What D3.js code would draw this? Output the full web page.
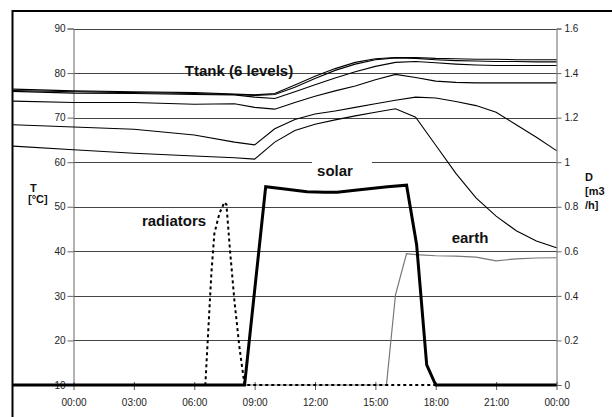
<!DOCTYPE html>
<html><head><meta charset="utf-8">
<script src="https://cdn.jsdelivr.net/npm/d3@7"></script>
<style>body{margin:0;background:#fff}svg{display:block;font-family:"Liberation Sans",Arial,sans-serif}</style>
</head><body><svg id="c" width="612" height="417"></svg>
<script>
// ---- data ----
const hours = [-3,0,3,6,8,9,10,11,12,13,14,15,16,17,18,19,20,21,22,23,24];
const tank1 = [76.4,76.0,75.8,75.6,75.3,75.1,75.4,77.3,79.3,81.0,82.4,83.2,83.5,83.5,83.3,83.2,83.1,83.1,83.0,83.0,83.0];
const tank2 = [76.1,75.8,75.6,75.4,75.2,75.0,75.2,76.8,78.8,80.6,82.0,83.0,83.4,83.3,83.0,82.8,82.7,82.6,82.6,82.5,82.5];
const tank3 = [75.9,75.5,75.4,75.2,75.1,74.6,74.3,75.8,77.4,78.9,80.3,81.5,82.4,82.6,82.3,82.0,81.8,81.7,81.7,81.7,81.7];
const tank4 = [73.7,73.4,73.4,73.0,73.1,72.3,71.9,73.4,74.8,76.0,77.1,78.5,79.7,79.0,78.2,77.9,77.8,77.8,77.8,77.8,77.8];
const tank5 = [68.4,67.9,67.4,66.1,64.5,63.9,67.5,69.6,70.8,71.5,72.3,73.1,73.9,74.6,74.4,73.6,72.7,71.2,68.4,65.6,62.6];
const tank6 = [63.6,62.8,62.0,61.4,61.0,60.7,64.5,67.1,68.5,69.5,70.4,71.2,72.0,70.1,63.8,57.5,52.0,47.9,44.6,42.3,40.8];

const solarHours = [-3,8.5,9.55,10.5,11.6,12.5,13.1,14.1,15.6,16.55,17.05,17.55,18,24];
const solarFlow  = [0,0,0.89,0.88,0.867,0.865,0.865,0.875,0.89,0.897,0.63,0.09,0,0];
const earthHours = [-3,15.55,16.0,16.55,17,18,19,20,21,22,23,24];
const earthFlow  = [0,0,0.405,0.59,0.585,0.58,0.578,0.574,0.557,0.566,0.57,0.571];
const radHours = [-3,6.55,6.85,7.0,7.25,7.5,7.6,7.78,8.0,8.25,8.5,24];
const radFlow  = [0,0,0.5,0.68,0.77,0.82,0.81,0.6,0.375,0.165,0,0];

const xTicks = [0,3,6,9,12,15,18,21,24];
const xTickLabels = ["00:00","03:00","06:00","09:00","12:00","15:00","18:00","21:00","00:00"];
const tTicks = [10,20,30,40,50,60,70,80,90];
const dTicks = [0,0.2,0.4,0.6,0.8,1,1.2,1.4,1.6];

// ---- layout ----
const svg = d3.select("#c");
const X0 = 73.5, X1 = 556.5, Y0 = 385, Y1 = 28.5;
const x = d3.scaleLinear().domain([0,24]).range([X0,X1]);
const yT = d3.scaleLinear().domain([10,90]).range([Y0,Y1]);
const yD = d3.scaleLinear().domain([0,1.6]).range([Y0,Y1]);

// clip to frame interior
svg.append("clipPath").attr("id","cp").append("rect").attr("x",13).attr("y",11).attr("width",600).attr("height",400);

// gridlines
svg.append("g").selectAll("line").data(tTicks.filter(d=>d>10)).join("line")
  .attr("x1",X0).attr("x2",X1).attr("y1",d=>Math.round(yT(d))+0.5).attr("y2",d=>Math.round(yT(d))+0.5)
  .attr("stroke","#444").attr("stroke-width",1);

// left axis
const gl = svg.append("g").attr("transform",`translate(${X0},0)`)
  .call(d3.axisLeft(yT).tickValues(tTicks).tickSize(6).tickPadding(2).tickFormat(d3.format("d")));
gl.select(".domain").attr("stroke","#666");
gl.selectAll(".tick line").attr("stroke","#666");
gl.selectAll("text").attr("font-size",10).attr("font-family","Liberation Sans, Arial").attr("fill","#222");

// right axis
const gr = svg.append("g").attr("transform",`translate(${X1},0)`)
  .call(d3.axisRight(yD).tickValues(dTicks).tickSize(5).tickPadding(3).tickFormat(d=>String(d)));
gr.select(".domain").attr("stroke","#666");
gr.selectAll(".tick line").attr("stroke","#666");
gr.selectAll("text").attr("font-size",10).attr("font-family","Liberation Sans, Arial").attr("fill","#222");

// bottom axis
const gb = svg.append("g").attr("transform",`translate(0,${Y0})`)
  .call(d3.axisBottom(x).tickValues(xTicks).tickSize(5).tickPadding(9).tickFormat((d,i)=>xTickLabels[i]));
gb.select(".domain").remove();
gb.selectAll(".tick line").attr("stroke","#555").attr("y1",-3);
gb.selectAll("text").attr("font-size",10).attr("font-family","Liberation Sans, Arial").attr("fill","#222");

// series
const plot = svg.append("g").attr("clip-path","url(#cp)");
const lineT = d3.line().x(d=>x(d[0])).y(d=>yT(d[1]));
const lineD = d3.line().x(d=>x(d[0])).y(d=>yD(d[1]));
[tank6,tank5,tank4,tank3,tank2,tank1].forEach(arr=>{
  plot.append("path").attr("d",lineT(hours.map((h,i)=>[h,arr[i]])))
    .attr("fill","none").attr("stroke","#000").attr("stroke-width",1.1);
});
plot.append("path").attr("d",lineD(earthHours.map((h,i)=>[h,earthFlow[i]])))
  .attr("fill","none").attr("stroke","#777").attr("stroke-width",1.2);
plot.append("path").attr("d",lineD(radHours.map((h,i)=>[h,radFlow[i]])))
  .attr("fill","none").attr("stroke","#000").attr("stroke-width",2).attr("stroke-dasharray","3,3");
plot.append("path").attr("d",lineD(solarHours.map((h,i)=>[h,solarFlow[i]])))
  .attr("fill","none").attr("stroke","#000").attr("stroke-width",3).attr("stroke-linejoin","miter");

// labels
const lab = (t,cx,by,size)=>svg.append("text").attr("x",cx).attr("y",by).attr("text-anchor","middle")
  .attr("font-weight","bold").attr("font-size",size).attr("fill","#111").text(t);
lab("Ttank (6 levels)",239,76,15);
svg.append("rect").attr("x",312).attr("y",157).attr("width",60).attr("height",22).attr("fill","#fff");
lab("solar",335,176,15);
lab("radiators",174,226,15);
lab("earth",470,243,15);

const tl = svg.append("text").attr("font-weight","bold").attr("font-size",11).attr("fill","#111");
tl.append("tspan").attr("x",30).attr("y",192).text("T");
tl.append("tspan").attr("x",28).attr("y",203).text("[°C]");
const dl = svg.append("text").attr("font-weight","bold").attr("font-size",11).attr("fill","#111");
dl.append("tspan").attr("x",585).attr("y",181).text("D");
dl.append("tspan").attr("x",585).attr("y",195).text("[m3");
dl.append("tspan").attr("x",585).attr("y",209).text("/h]");

// outer frame
svg.append("rect").attr("x",12.5).attr("y",11).attr("width",700).attr("height",500)
  .attr("fill","none").attr("stroke","#000").attr("stroke-width",2);
</script></body></html>
